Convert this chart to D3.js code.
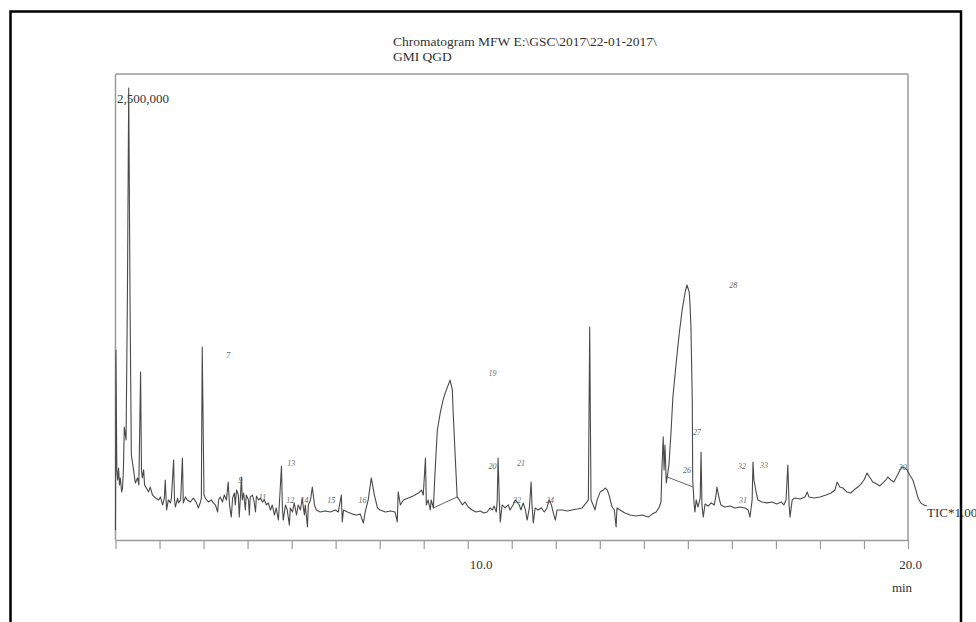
<!DOCTYPE html>
<html><head><meta charset="utf-8">
<script src="https://cdn.jsdelivr.net/npm/d3@7"></script>
<style>
html,body{margin:0;padding:0;background:#fff;}
svg{display:block;}
text{font-family:"Liberation Serif","Times New Roman",serif;}
</style></head>
<body>
<svg id="chart" width="976" height="622"></svg>
<script>
// ---- data (retention time in min, TIC intensity in thousands of counts) ----
const retentionTime = [2.00,2.01,2.03,2.05,2.07,2.09,2.11,2.14,2.16,2.18,2.20,2.24,2.27,2.30,2.33,2.36,2.41,2.45,2.50,2.53,
2.57,2.59,2.61,2.64,2.66,2.70,2.75,2.79,2.84,2.91,2.98,3.02,3.07,3.11,3.13,3.16,3.20,3.25,3.27,3.32,
3.34,3.36,3.41,3.43,3.48,3.52,3.54,3.59,3.63,3.70,3.77,3.84,3.88,3.93,3.95,3.97,4.01,4.04,4.11,4.18,
4.22,4.27,4.32,4.34,4.38,4.43,4.47,4.52,4.56,4.59,4.63,4.66,4.70,4.72,4.75,4.79,4.81,4.84,4.86,4.88,
4.91,4.95,4.97,5.02,5.04,5.06,5.11,5.15,5.18,5.20,5.25,5.29,5.34,5.38,5.43,5.47,5.52,5.56,5.61,5.65,
5.70,5.72,5.77,5.79,5.81,5.86,5.90,5.95,5.97,6.02,6.06,6.11,6.15,6.20,6.24,6.29,6.31,6.36,6.38,6.43,
6.47,6.52,6.56,6.65,6.77,6.88,6.99,7.06,7.11,7.13,7.15,7.18,7.27,7.38,7.47,7.56,7.63,7.67,7.74,7.81,
7.88,7.95,8.01,8.13,8.24,8.35,8.40,8.42,8.47,8.54,8.65,8.76,8.88,8.95,8.99,9.04,9.06,9.10,9.15,9.17,
9.22,9.26,9.31,9.38,9.44,9.49,9.53,9.60,9.65,9.67,9.72,9.76,9.81,9.88,9.94,10.01,10.10,10.19,10.28,10.37,
10.44,10.51,10.56,10.60,10.65,10.67,10.69,10.72,10.74,10.78,10.85,10.92,10.96,11.03,11.08,11.12,11.17,11.21,11.26,11.31,
11.35,11.40,11.44,11.46,11.49,11.53,11.60,11.67,11.74,11.80,11.85,11.90,11.94,11.99,12.03,12.15,12.26,12.37,12.49,12.60,
12.69,12.74,12.77,12.80,12.85,12.89,12.94,13.01,13.08,13.12,13.17,13.21,13.28,13.33,13.37,13.39,13.46,13.57,13.69,13.82,
13.96,14.10,14.19,14.28,14.35,14.39,14.41,14.44,14.46,14.48,14.51,14.53,14.57,14.62,14.66,14.73,14.80,14.87,14.94,14.98,
15.03,15.05,15.07,15.10,15.11,15.12,15.14,15.16,15.19,15.23,15.28,15.30,15.32,15.35,15.39,15.46,15.53,15.60,15.64,15.66,
15.71,15.75,15.84,15.96,16.07,16.19,16.30,16.37,16.41,16.46,16.48,16.50,16.55,16.59,16.68,16.80,16.91,17.02,17.12,17.18,
17.23,17.27,17.30,17.32,17.37,17.43,17.55,17.66,17.71,17.75,17.86,18.00,18.14,18.25,18.34,18.39,18.45,18.52,18.61,18.70,
18.80,18.86,18.93,19.00,19.07,19.14,19.20,19.29,19.36,19.43,19.50,19.54,19.61,19.68,19.75,19.82,19.86,19.93,19.98,20.04,
20.11,20.18,20.23,20.29,20.36,20.43];
const ticKCounts = [54,1019,376,322,386,295,333,258,279,376,606,537,1288,2425,1288,456,376,306,333,295,
901,376,333,376,295,279,258,284,241,225,215,231,188,225,322,161,215,199,225,429,
215,177,225,199,215,440,199,231,215,204,225,199,172,204,225,1035,241,225,204,215,
199,188,150,215,231,204,241,215,311,188,123,225,252,188,268,241,123,241,338,215,
252,161,241,215,134,231,241,204,150,236,215,225,204,215,188,199,161,188,134,172,
107,188,397,177,107,188,161,80,172,150,199,134,188,161,225,134,188,70,188,215,
284,188,161,150,156,150,161,150,215,241,97,161,150,139,134,139,91,150,215,333,
241,172,161,150,156,150,97,258,188,215,225,236,252,268,241,440,188,215,161,215,
172,376,590,687,751,789,815,858,805,681,429,231,215,188,204,177,161,150,156,145,
150,172,161,182,150,215,440,188,97,188,172,188,161,188,215,204,188,161,199,161,
107,172,311,188,91,172,161,172,150,172,215,188,150,107,161,161,156,161,166,172,
199,215,1143,215,188,161,215,258,268,279,268,241,177,161,70,172,161,145,134,129,
134,123,139,150,177,204,376,553,376,510,306,338,402,590,767,939,1100,1234,1331,1368,
1331,1261,1143,751,322,284,199,150,215,177,225,472,188,123,193,182,199,188,241,284,
225,188,177,182,172,177,172,161,123,215,418,322,258,215,204,199,204,193,204,188,
215,402,188,123,215,225,220,231,258,231,225,231,241,252,268,311,284,279,258,252,
274,284,300,322,359,333,311,300,290,306,322,338,322,311,343,376,392,386,376,349,
322,268,225,199,188,182];

// integration baselines drawn under peaks 18 and 28
const baselineStartTime = [9.22, 14.53];
const baselineStartK = [172, 338];
const baselineEndTime = [9.76, 15.12];
const baselineEndK = [231, 284];

// peak number annotations
const peakLabelText = ["7","9","11","12","13","14","15","16","19","20","21","22","24","26","27","28","31","32","33","30"];
const peakLabelTime = [4.56,4.84,5.34,5.97,5.99,6.29,6.90,7.61,10.56,10.56,11.21,11.12,11.87,14.98,15.21,16.03,16.25,16.23,16.73,19.88];
const peakLabelK = [993,322,231,215,413,215,215,215,896,397,413,215,215,376,579,1368,215,397,402,392];

// axis
const tickMinutes = [2,3,4,5,6,7,8,9,10,11,12,13,14,15,16,17,18,19,20];
const labeledTicks = [10, 20];
const yTopLabel = "2,500,000";
const titleLines = ["Chromatogram MFW E:\\GSC\\2017\\22-01-2017\\", "GMI QGD"];
const traceLabel = "TIC*1.00";
const unitLabel = "min";

// ---- drawing ----
const svg = d3.select("#chart");
const x = d3.scaleLinear().domain([2, 20]).range([115.5, 908]);
const y = d3.scaleLinear().domain([0, 2500]).range([540, 74]);

// outer border
svg.append("rect").attr("x", 10.5).attr("y", 11.5).attr("width", 950.5).attr("height", 640)
  .attr("fill", "none").attr("stroke", "#000").attr("stroke-width", 2.5);

// title
svg.selectAll("text.title").data(titleLines).join("text").attr("class", "title")
  .attr("x", 393).attr("y", (d, i) => 46 + i * 15).attr("fill", "#333")
  .style("font-size", "13.5px").text(d => d);

// plot frame
const frame = svg.append("g").attr("stroke", "#9a9a9a").attr("stroke-width", 1.5).attr("fill", "none");
frame.append("line").attr("x1", x(2)).attr("x2", x(20)).attr("y1", y(2500)).attr("y2", y(2500));
frame.append("line").attr("x1", x(2)).attr("x2", x(2)).attr("y1", y(2500)).attr("y2", y(0));
frame.append("line").attr("x1", x(20)).attr("x2", x(20)).attr("y1", y(2500)).attr("y2", y(0));

// x axis
const xAxis = d3.axisBottom(x).tickValues(tickMinutes).tickSize(9).tickSizeOuter(0)
  .tickFormat(d => labeledTicks.includes(d) ? d3.format(".1f")(d) : "");
const ax = svg.append("g").attr("transform", `translate(0,${y(0)})`).call(xAxis);
ax.select(".domain").attr("stroke", "#9a9a9a").attr("stroke-width", 1.5);
ax.selectAll(".tick line").attr("stroke", "#9a9a9a").attr("stroke-width", 1.2);
ax.selectAll(".tick text").attr("fill", "#333").style("font-size", "13px")
  .style("font-family", "'Liberation Serif', serif")
  .attr("y", 20).attr("dx", d => d === 10 ? 13 : 2);

svg.append("text").attr("x", x(20) - 6).attr("y", 592).attr("text-anchor", "middle")
  .attr("fill", "#333").style("font-size", "13px").text(unitLabel);

// y top label
svg.append("text").attr("x", x(2) + 1.5).attr("y", 103).attr("fill", "#333")
  .style("font-size", "13px").text(yTopLabel);

// integration baselines
svg.append("g").selectAll("line").data(baselineStartTime).join("line")
  .attr("x1", (d, i) => x(d)).attr("y1", (d, i) => y(baselineStartK[i]))
  .attr("x2", (d, i) => x(baselineEndTime[i])).attr("y2", (d, i) => y(baselineEndK[i]))
  .attr("stroke", "#666").attr("stroke-width", 1);

// trace
const pts = retentionTime.map((t, i) => [t, ticKCounts[i]]);
svg.append("path").datum(pts)
  .attr("d", d3.line().x(d => x(d[0])).y(d => y(d[1])))
  .attr("fill", "none").attr("stroke", "#4a4a4a").attr("stroke-width", 1.1).attr("stroke-linejoin", "round");

// peak labels (grayscale, tiny)
svg.append("g").attr("opacity", 0.9).selectAll("text").data(peakLabelText).join("text")
  .attr("x", (d, i) => x(peakLabelTime[i])).attr("y", (d, i) => y(peakLabelK[i]) + 3)
  .attr("text-anchor", "middle").style("font-size", "8px").style("font-style", "italic")
  .attr("fill", "#555").text(d => d);

// trace label
svg.append("text").attr("x", 927).attr("y", 517).attr("fill", "#333")
  .style("font-size", "13px").text(traceLabel);
</script>
</body></html>
